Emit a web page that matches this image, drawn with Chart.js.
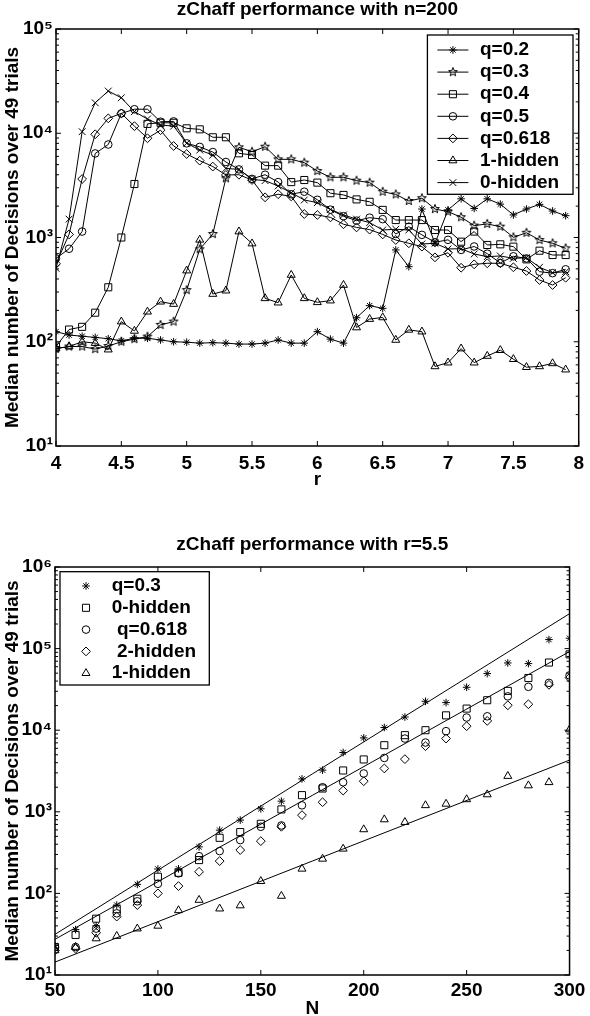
<!DOCTYPE html>
<html><head><meta charset="utf-8">
<script src="https://cdn.jsdelivr.net/npm/chart.js@4.4.1/dist/chart.umd.min.js"></script>
<style>
html,body{margin:0;padding:0;background:#fff;width:590px;height:1016px;overflow:hidden}
#w1{position:absolute;left:0;top:0;width:590px;height:500px}
#w2{position:absolute;left:0;top:500px;width:590px;height:520px}
</style></head>
<body>
<div id="w1"><canvas id="c1" width="590" height="500"></canvas></div>
<div id="w2"><canvas id="c2" width="590" height="520"></canvas></div>
<script>
// ---------- Top chart data (n = 200) ----------
const rValues = [4.0,4.1,4.2,4.3,4.4,4.5,4.6,4.7,4.8,4.9,5.0,5.1,5.2,5.3,5.4,5.5,5.6,5.7,5.8,5.9,
                 6.0,6.1,6.2,6.3,6.4,6.5,6.6,6.7,6.8,6.9,7.0,7.1,7.2,7.3,7.4,7.5,7.6,7.7,7.8,7.9];
const q02 = [125,116,113,110,107,102,108,108,104,100, 99,97,98,97,95,95,97,104,97,97,
             125,106,97,170,222,209,760,525,1875,880, 1840,2350,1900,2350,2090,1645,1875,2080,1795,1620];
const q03 = [86,90,90,85,91,100,106,112,145,156, 313,771,1080,3700,7330,6650,7430,5620,5620,5220,
             4340,3780,3780,3510,3360,2750,2590,2240,2380,1875, 1770,1565,1300,1350,1270,1005,1110,946,880,787];
const q04 = [90,131,139,190,333,1000,3260,12300,12600,12600, 11150,10900,9150,9150,6420,6190,4890,4890,3400,3560,
             3360,2660,2560,2320,2200,1840,1470,1470,1470,1180, 1180,912,1140,848,860,817,617,747,679,679];
const q05 = [630,780,1140,6400,7800,15500,17000,17000,12900,13000, 8000,7400,6600,5300,4500,3650,4000,3400,2600,2750,
             2300,1850,1600,1450,1550,1500,1080,1270,1060,900, 950,760,820,700,570,660,630,470,455,495];
const q0618 = [560,1070,3640,9780,13900,15500,11700,8960,10700,7550, 6320,5460,4790,3980,4000,3560,2430,2600,2480,1680,
               1645,1560,1340,1250,1190,1070,946,880,817,645, 714,513,553,566,566,518,477,391,350,411];
const hidden1 = [86,90,100,97,84,156,127,194,242,230, 481,950,287,309,1140,875,261,237,437,261,
                 239,248,350,137,165,171,104,130,125,58, 63,86,63,73,83,68,57,58,62,54];
const hidden0 = [507,1500,10350,19600,25400,21900,16100,13700,12000,11700, 8020,6900,6180,4600,4500,3610,3510,3120,2690,2290,
                 2160,1860,1645,1500,1390,1180,1200,1180,867,880, 777,780,695,655,665,631,640,518,459,470];
const topLabels = ['q=0.2','q=0.3','q=0.4','q=0.5','q=0.618','1-hidden','0-hidden'];
const topTitle = 'zChaff performance with n=200';
const topXTicks = [4,4.5,5,5.5,6,6.5,7,7.5,8];
const topYTicks = [10,100,1000,10000,100000];

// ---------- Bottom chart data (r = 5.5) ----------
const nValues = [50,60,70,80,90,100,110,120,130,140,150,160,170,180,190,200,210,220,230,240,250,260,270,280,290,300];
const bq03 = [23,36,40,72,129,199,200,372,596,791,1087,1350,2530,3240,5330,8050,10800,14500,22600,21800,33600,49400,66700,65500,129000,134000];
const bh0 = [22,31,49,64,86,160,179,256,480,564,713,1070,1600,1930,3210,4380,6550,8690,10000,15200,18400,23300,30300,43600,67500,85000];
const bq0618 = [22,22,37,57,80,131,176,286,330,450,655,680,1200,2000,2300,2950,4570,7900,7060,9730,14300,14800,26000,34000,38000,47000];
const bh2 = [20,21,33,52,72,100,123,184,249,340,437,655,910,1310,1820,2370,3400,4420,6370,7900,11200,13000,20200,20800,36000,44000];
const bh1 = [20,22,28,30,37,40,62,83,65,71,141,93,200,265,352,608,805,747,1200,1250,1420,1630,2740,2100,2300,10200];
const fitN = [50,300];
const fitQ03 = [31.5,268000];
const fitH0 = [27.4,92000];
const fitH1 = [14.4,4300];
const bottomLabels = ['q=0.3','0-hidden',' q=0.618',' 2-hidden','1-hidden'];
const bottomTitle = 'zChaff performance with r=5.5';
const bottomXTicks = [50,100,150,200,250,300];
const bottomYTicks = [10,100,1000,10000,100000,1000000];

const yTitle = 'Median number of Decisions over 49 trials';
const SUP = ['\u2070','\u00B9','\u00B2','\u00B3','\u2074','\u2075','\u2076'];
const FAM = "'Liberation Sans', Arial, Helvetica, sans-serif";
const FS = 19;

Chart.defaults.font.family = FAM;
Chart.defaults.color = '#000';

function pentagram(r) {
  const s = Math.ceil(2 * r + 4);
  const c = document.createElement('canvas');
  c.width = s; c.height = s;
  const g = c.getContext('2d');
  const cx = s / 2, cy = s / 2, ri = r * 0.42;
  g.beginPath();
  for (let i = 0; i < 10; i++) {
    const ang = -Math.PI / 2 + i * Math.PI / 5;
    const rr = (i % 2) ? ri : r;
    g.lineTo(cx + rr * Math.cos(ang), cy + rr * Math.sin(ang));
  }
  g.closePath();
  g.lineWidth = 1; g.strokeStyle = '#000'; g.stroke();
  return c;
}

const zip = (xs, ys) => xs.map((x, i) => ({x: x, y: ys[i]}));

const frame = {
  id: 'frame',
  afterDatasetsDraw(chart) {
    const ctx = chart.ctx, a = chart.chartArea, xs = chart.scales.x, ys = chart.scales.y;
    ctx.save();
    ctx.strokeStyle = '#000';
    ctx.lineWidth = 1;
    ctx.beginPath();
    xs.ticks.forEach(t => {
      const px = xs.getPixelForValue(t.value);
      ctx.moveTo(px, a.bottom); ctx.lineTo(px, a.bottom - 5);
      ctx.moveTo(px, a.top); ctx.lineTo(px, a.top + 5);
    });
    const e0 = Math.round(Math.log10(ys.min)), e1 = Math.round(Math.log10(ys.max));
    for (let e = e0; e <= e1; e++) {
      for (let m = 1; m <= 9; m++) {
        if (e === e1 && m > 1) break;
        const v = m * Math.pow(10, e);
        const py = ys.getPixelForValue(v);
        const len = m === 1 ? 5 : 3;
        ctx.moveTo(a.left, py); ctx.lineTo(a.left + len, py);
        ctx.moveTo(a.right, py); ctx.lineTo(a.right - len, py);
      }
    }
    ctx.stroke();
    ctx.lineWidth = 1.5;
    ctx.strokeRect(a.left, a.top, a.right - a.left, a.bottom - a.top);
    ctx.restore();
  }
};

const boxLegend = {
  id: 'boxLegend',
  afterDraw(chart, args, o) {
    if (!o || !o.w) return;
    const a = chart.chartArea, ctx = chart.ctx;
    const left = o.side === 'right' ? a.right - o.offX - o.w : a.left + o.offX;
    const top = a.top + o.offY;
    ctx.save();
    ctx.fillStyle = '#fff';
    ctx.fillRect(left, top, o.w, o.h);
    ctx.strokeStyle = '#000'; ctx.lineWidth = 1.3;
    ctx.strokeRect(left, top, o.w, o.h);
    const items = chart.data.datasets.filter(d => !d.isFit);
    items.forEach((d, i) => {
      const y = top + o.row0 + i * o.step;
      ctx.strokeStyle = '#000'; ctx.lineWidth = 1;
      if (o.line) {
        ctx.beginPath(); ctx.moveTo(left + o.l0, y); ctx.lineTo(left + o.l1, y); ctx.stroke();
      }
      ctx.fillStyle = 'rgba(0,0,0,0)';
      Chart.helpers.drawPoint(ctx, {pointStyle: d.pointStyle, radius: d.pointRadius, borderWidth: 1, rotation: 0}, left + o.mx, y);
      ctx.fillStyle = '#000';
      ctx.font = 'bold ' + FS + 'px ' + FAM;
      ctx.textBaseline = 'middle'; ctx.textAlign = 'left';
      ctx.fillText(d.label, left + o.tx, y);
    });
    ctx.restore();
  }
};
Chart.register(frame, boxLegend);

const styleTop = [
  {ps: 'star', r: 3.8},
  {ps: pentagram(4.6), r: 4.6},
  {ps: 'rect', r: 5},
  {ps: 'circle', r: 3.8},
  {ps: 'rectRot', r: 4.4},
  {ps: 'triangle', r: 4.6},
  {ps: 'crossRot', r: 4.8}
];
const topSeries = [q02, q03, q04, q05, q0618, hidden1, hidden0];

function ds(label, data, st, line) {
  return {
    label: label, data: data, showLine: line,
    borderColor: '#000', borderWidth: 1, tension: 0,
    pointStyle: st.ps, pointRadius: st.r, pointHoverRadius: st.r,
    pointBorderColor: '#000', pointBackgroundColor: 'rgba(0,0,0,0)', pointBorderWidth: 1,
    fill: false
  };
}

function yScale(min, max, ticksList, w) {
  return {
    type: 'logarithmic', min: min, max: max,
    afterFit: s => { s.width = w; },
    afterBuildTicks: s => { s.ticks = ticksList.map(v => ({value: v})); },
    grid: {display: false, drawTicks: false},
    border: {display: false},
    ticks: {
      font: {size: FS, weight: 'bold'}, padding: 3, color: '#000',
      callback: v => '10' + SUP[Math.round(Math.log10(v))]
    },
    title: {display: true, text: yTitle, font: {size: FS, weight: 'bold', lineHeight: 1}, padding: {top: 3, bottom: 0}, color: '#000'}
  };
}

function xScale(min, max, ticksList, title, h, tp, tb) {
  return {
    type: 'linear', min: min, max: max,
    afterFit: s => { s.height = h; },
    afterBuildTicks: s => { s.ticks = ticksList.map(v => ({value: v})); },
    grid: {display: false, drawTicks: false},
    border: {display: false},
    ticks: {font: {size: FS, weight: 'bold'}, padding: tp, maxRotation: 0, autoSkip: false, color: '#000',
            callback: v => String(v)},
    title: {display: true, text: title, font: {size: FS, weight: 'bold', lineHeight: 1}, padding: {top: 0, bottom: tb}, color: '#000'}
  };
}

new Chart(document.getElementById('c1'), {
  type: 'scatter',
  data: {datasets: topSeries.map((s, i) => ds(topLabels[i], zip(rValues, s), styleTop[i], true))},
  options: {
    responsive: false, animation: false, events: [],
    layout: {padding: {left: 0, right: 7, top: 0, bottom: 0}},
    scales: {
      x: xScale(4, 8, topXTicks, 'r', 54, 6, 10.5),
      y: yScale(10, 100000, topYTicks, 56)
    },
    plugins: {
      legend: {display: false}, tooltip: {enabled: false},
      title: {display: true, text: topTitle, fullSize: false, font: {size: FS, weight: 'bold', lineHeight: 1}, padding: {top: 0.5, bottom: 9.5}, color: '#000'},
      boxLegend: {side: 'right', offX: 5.7, offY: 6, w: 145.6, h: 159.3, row0: 15, step: 22.1, line: true, l0: 10, l1: 41, mx: 25.5, tx: 52.6}
    }
  }
});

const styleBottom = [
  {ps: 'star', r: 3.8},
  {ps: 'rect', r: 5},
  {ps: 'circle', r: 3.8},
  {ps: 'rectRot', r: 4.4},
  {ps: 'triangle', r: 4.6}
];
const bottomSeries = [bq03, bh0, bq0618, bh2, bh1];
const fits = [fitQ03, fitH0, fitH1];

const bds = bottomSeries.map((s, i) => ds(bottomLabels[i], zip(nValues, s), styleBottom[i], false));
fits.forEach(f => {
  bds.push({data: zip(fitN, f), showLine: true, borderColor: '#000', borderWidth: 1, pointRadius: 0, pointHoverRadius: 0, isFit: true, fill: false});
});

new Chart(document.getElementById('c2'), {
  type: 'scatter',
  data: {datasets: bds},
  options: {
    responsive: false, animation: false, events: [],
    layout: {padding: {left: 0, right: 17, top: 0, bottom: 0}},
    scales: {
      x: xScale(50, 300, bottomXTicks, 'N', 45, 4.6, 2),
      y: yScale(10, 1000000, bottomYTicks, 55)
    },
    plugins: {
      legend: {display: false}, tooltip: {enabled: false},
      title: {display: true, text: bottomTitle, fullSize: false, font: {size: FS, weight: 'bold', lineHeight: 1}, padding: {top: 35.5, bottom: 12.5}, color: '#000'},
      boxLegend: {side: 'left', offX: 5, offY: 4.7, w: 149.3, h: 113.3, row0: 14.3, step: 21.8, line: false, mx: 26, tx: 51.7}
    }
  }
});
</script>
</body></html>
